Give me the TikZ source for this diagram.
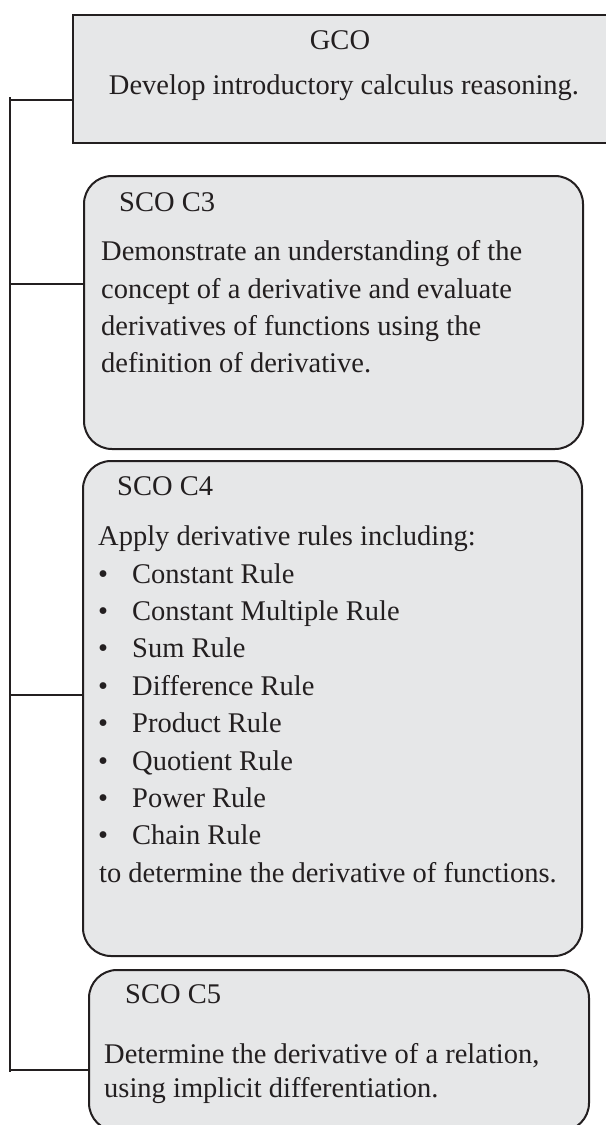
\documentclass[tikz,border=0pt]{standalone}
\usepackage{fontspec}
\setmainfont{Liberation Serif}
\definecolor{boxfill}{HTML}{E6E7E8}
\definecolor{ink}{HTML}{231F20}
\tikzset{
  box/.style={draw=ink, fill=boxfill, line width=2bp, inner sep=0pt, anchor=north west},
  roundbox/.style={box, rounded corners=28bp},
  txt/.style={anchor=base west, inner sep=0pt, text=ink, font=\fontsize{28.5bp}{37.3bp}\selectfont},
  bul/.style={txt, anchor=base},
  link/.style={draw=ink, line width=2bp}
}
\begin{document}
\begin{tikzpicture}[x=1bp,y=-1bp]
\useasboundingbox (0,0) rectangle (606,1125);
% boxes
\node[box, minimum width=545bp, minimum height=128bp] (gco) at (72,14) {};
\node[roundbox, minimum width=499bp, minimum height=273bp] (c3) at (83,175) {};
\node[roundbox, minimum width=499bp, minimum height=495bp] (c4) at (82,460) {};
\node[roundbox, minimum width=500bp, minimum height=161bp] (c5) at (88,969) {};
% spine and connectors
\coordinate (st) at (10,97);
\coordinate (sb) at (10,1072);
\coordinate (j1) at (10,100);
\coordinate (j2) at (10,284);
\coordinate (j3) at (10,695);
\coordinate (j4) at (10,1070);
\draw[link] (st) -- (sb);
\draw[link] (j1) -- (j1 -| gco.west);
\draw[link] (j2) -- (j2 -| c3.west);
\draw[link] (j3) -- (j3 -| c4.west);
\draw[link] (j4) -- (j4 -| c5.west);
% GCO text
\node[bul] (gcot) at (340,49) {GCO};
\node[bul] (gcod) at (344,94) {Develop introductory calculus reasoning.};
% C3 text
\node[txt] (c3t) at (119,211) {SCO C3};
\node[txt] (c3a) at (101,260) {Demonstrate an understanding of the};
\node[txt] (c3b) at (101,298) {concept of a derivative and evaluate};
\node[txt] (c3c) at (101,335) {derivatives of functions using the};
\node[txt] (c3d) at (101,372) {definition of derivative.};
% C4 text
\node[txt] (c4t) at (117,495) {SCO C4};
\node[txt] (c4a) at (98,545) {Apply derivative rules including:};
\foreach \y/\t [count=\i] in {583/Constant Rule, 620/Constant Multiple Rule, 657/Sum Rule, 695/Difference Rule, 732/Product Rule, 770/Quotient Rule, 807/Power Rule, 844/Chain Rule}{
  \node[bul] (b\i) at (103,\y) {•};
  \node[txt] (r\i) at (132,\y) {\t};
}
\node[txt] (c4z) at (99,882) {to determine the derivative of functions.};
% C5 text
\node[txt] (c5t) at (125,1003) {SCO C5};
\node[txt] (c5a) at (104,1063) {Determine the derivative of a relation,};
\node[txt] (c5b) at (104,1097) {using implicit differentiation.};
\end{tikzpicture}
\end{document}
